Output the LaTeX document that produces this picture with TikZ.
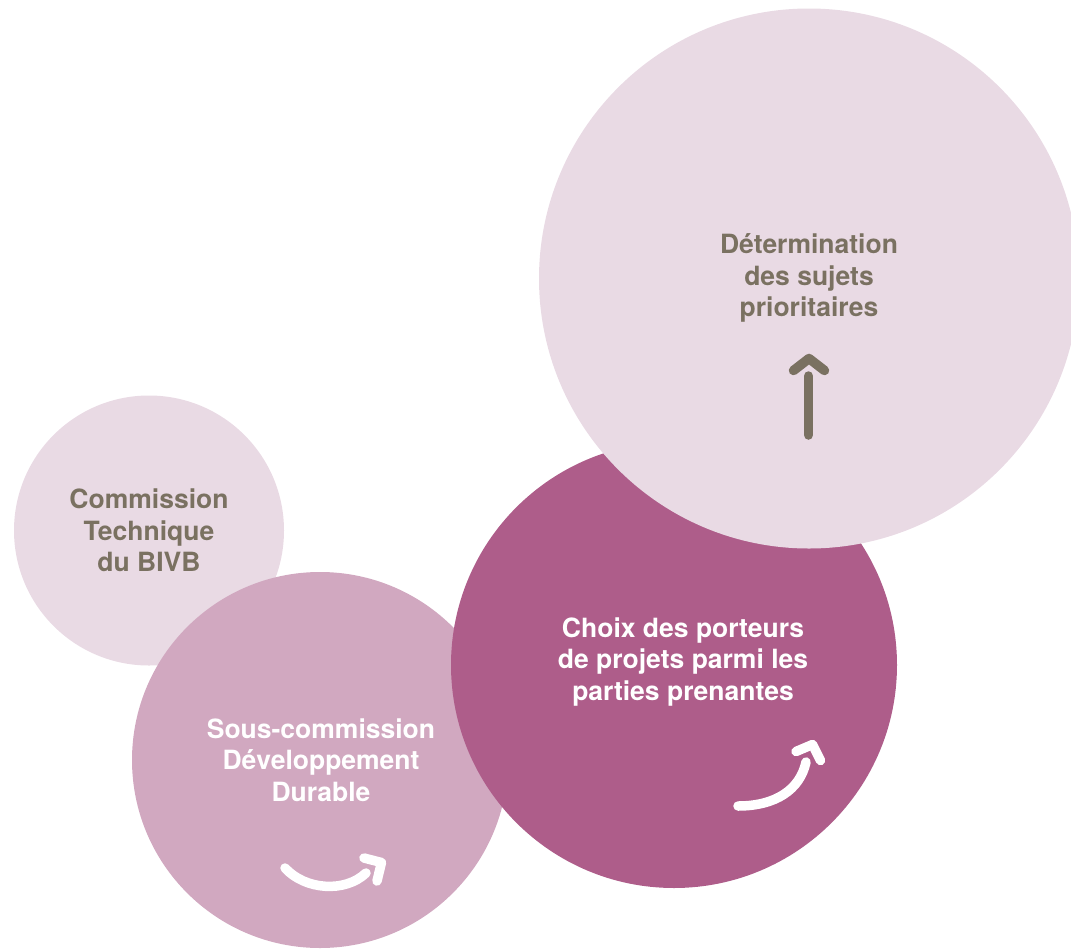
\documentclass[tikz,border=0pt]{standalone}
\usepackage{fontspec}
\setmainfont{TeX Gyre Heros}
\definecolor{palepink}{HTML}{E9DAE4}
\definecolor{midpink}{HTML}{D1A8C0}
\definecolor{deeppink}{HTML}{AE5D8A}
\definecolor{taupe}{HTML}{7A7161}
\tikzset{
  disc/.style={circle, draw=none, inner sep=0pt, minimum size=#1},
  lbl/.style={font=\bfseries\fontsize{26.5}{31.5}\selectfont, align=center, inner sep=0pt},
  glyph/.style={line width=9.5pt, line cap=round, line join=round}
}
\begin{document}
\begin{tikzpicture}[x=1pt,y=-1pt]
\useasboundingbox (0,0) rectangle (1071,948);
\clip (0,0) rectangle (1071,948);
% circles, back to front
\node[disc=270pt, fill=palepink] (commission) at (149,530.5) {};
\node[disc=376pt, fill=midpink] (souscom) at (320,760) {};
\node[disc=446pt, fill=deeppink] (choix) at (674,665) {};
\node[disc=540pt, fill=palepink] (determ) at (809,278.5) {};
% labels
\node[lbl, text=taupe] (tcommission) at (commission.center) {Commission\\Technique\\du BIVB};
\node[lbl, text=white] (tsouscom) at (321,760) {Sous-commission\\Développement\\Durable};
\node[lbl, text=white] (tchoix) at (683,662) {Choix des porteurs\\de projets parmi les\\parties prenantes};
\node[lbl, text=taupe] (tdeterm) at (809,278) {Détermination\\des sujets\\prioritaires};
% arrow glyphs
\draw[glyph, white] (285,868) .. controls (305,890) and (345,893) .. (366,873);
\draw[glyph, white] (364,858) -- (381.5,862.5) -- (377,881);
\draw[glyph, white] (738,806) .. controls (775,806) and (800,790) .. (806,762);
\draw[glyph, white] (796,751.5) -- (812.5,744.5) -- (820.5,760.5);
\draw[glyph, taupe] (808.5,376) -- (808.5,435);
\draw[glyph, taupe] (793.5,370.5) -- (809,358.5) -- (824.5,370.5);
\end{tikzpicture}
\end{document}
